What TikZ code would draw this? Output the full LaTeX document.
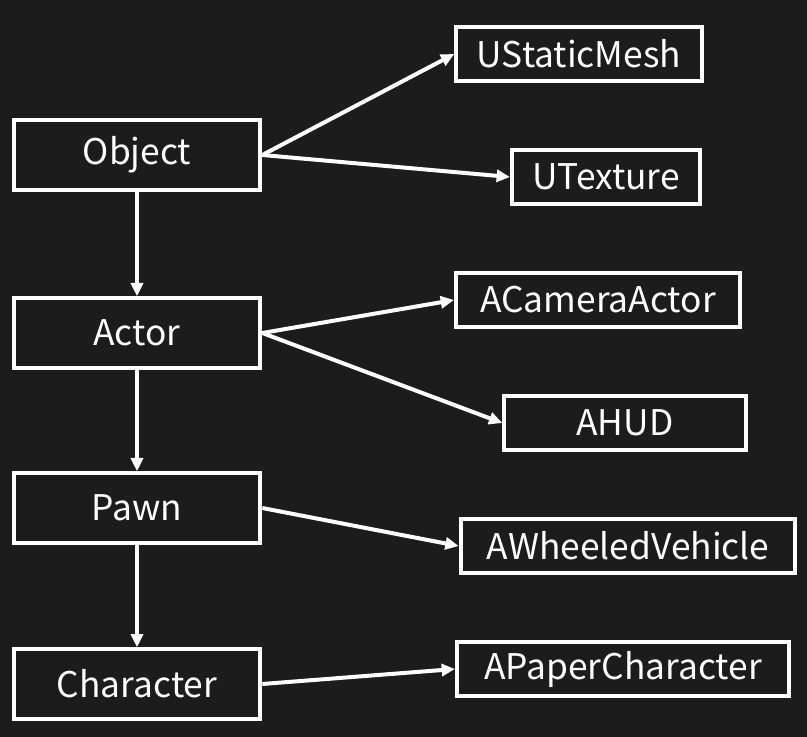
\documentclass[tikz,border=0pt]{standalone}
\usepackage{fontspec}
\setmainfont{Noto Sans CJK SC}
\usepackage{tikz}
\usetikzlibrary{arrows.meta}
\definecolor{board}{RGB}{28,28,28}
\tikzset{>/.tip={Triangle[length=10pt,width=9pt]},
  cls/.style={draw=white, line width=3pt, text=white, inner sep=0pt,
    font=\fontsize{26.5}{30}\selectfont},
  base/.style={cls, minimum width=185pt, minimum height=52pt},
  sub/.style={cls, minimum height=41pt},
  link/.style={draw=white, line width=3pt, ->}}

\begin{document}
\begin{tikzpicture}[x=0.75pt,y=-0.75pt]
\fill[board] (0,0) rectangle (807,737);
\useasboundingbox (0,0) rectangle (807,737);
% base classes
\node[base] (object) at (137,155) {Object};
\node[base] (actor) at (137,333) {Actor};
\node[base] (pawn) at (137,508) {Pawn};
\node[base] (character) at (137,684) {Character};
% derived classes
\node[sub, minimum width=184pt] (mesh) at (579,54) {UStaticMesh};
\node[sub, minimum width=141pt] (texture) at (606,177) {UTexture};
\node[sub, minimum width=213pt] (camera) at (598,300) {ACameraActor};
\node[sub, minimum width=181pt] (hud) at (625,423) {AHUD};
\node[sub, minimum width=251pt] (vehicle) at (628,546) {AWheeledVehicle};
\node[sub, minimum width=249pt] (paper) at (623,669) {APaperCharacter};

\draw[link] (object) to (actor);
\draw[link] (actor) to (pawn);
\draw[link] (pawn) to (character);
\draw[link] (object.east) to (mesh.west);
\draw[link] (object.east) to (texture.west);
\draw[link] (actor.east) to (camera.west);
\draw[link] (actor.east) to (hud.west);
\draw[link] (pawn.east) to (vehicle.west);
\draw[link] (character.east) to (paper.west);
\end{tikzpicture}
\end{document}
